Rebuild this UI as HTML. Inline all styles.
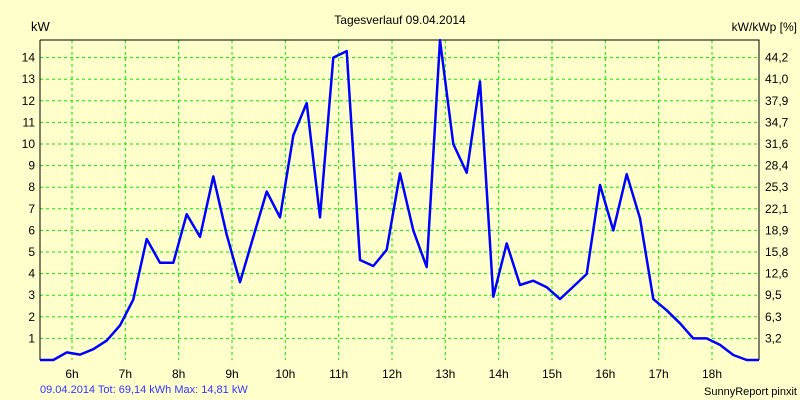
<!DOCTYPE html>
<html><head><meta charset="utf-8"><style>
html,body{margin:0;padding:0;background:#ffffcc;}
svg{display:block;font-family:"Liberation Sans",Arial,sans-serif;}
</style></head><body>
<svg width="800" height="400" viewBox="0 0 800 400">
<rect x="0" y="0" width="800" height="400" fill="#ffffcc"/>
<text x="400" y="24" font-size="12" text-anchor="middle" fill="#000">Tagesverlauf 09.04.2014</text>
<text x="31" y="31" font-size="13" fill="#000">kW</text>
<text x="797" y="31" font-size="12" text-anchor="end" fill="#000">kW/kWp [%]</text>
<g id="grid"></g>
<g id="axes"></g>
<g id="series"></g>
<text x="40" y="393" font-size="11" fill="#3333ff">09.04.2014 Tot: 69,14 kWh Max: 14,81 kW</text>
<text x="797" y="395" font-size="11" text-anchor="end" fill="#000">SunnyReport pinxit</text>
</svg>
<script>
const hourTicks = [6,7,8,9,10,11,12,13,14,15,16,17,18];
const kwTicks = [1,2,3,4,5,6,7,8,9,10,11,12,13,14];
const pctLabels = ["3,2","6,3","9,5","12,6","15,8","18,9","22,1","25,3","28,4","31,6","34,7","37,9","41,0","44,2"];
const startTime = 5.65;
const stepHours = 0.25;
const powerKW = [0,0.35,0.25,0.5,0.9,1.6,2.8,5.6,4.5,4.5,6.75,5.7,8.5,5.8,3.6,5.7,7.8,6.6,10.4,11.9,6.6,14.0,14.3,4.63,4.35,5.1,8.64,6.0,4.3,14.81,10.0,8.67,12.9,2.93,5.4,3.47,3.67,3.37,2.82,3.4,3.98,8.1,6.0,8.6,6.56,2.82,2.3,1.7,1.0,1.0,0.7,0.23,0,0];
const ns='http://www.w3.org/2000/svg';
const L=40,R=759,T=40,B=360;
function xs(t){return 72+(t-6)*53.333;}
function ys(v){return B-v*21.6;}
function mk(tag,attrs,parent){const e=document.createElementNS(ns,tag);for(const k in attrs)e.setAttribute(k,attrs[k]);parent.appendChild(e);return e;}
const grid=document.getElementById('grid'),axes=document.getElementById('axes'),series=document.getElementById('series');
hourTicks.forEach(h=>{
  const x=xs(h);
  const ln=mk('line',{x1:x,x2:x,y1:T,y2:B,stroke:'#00ee00','stroke-width':1,'stroke-dasharray':'3,3'},grid);
  
  
  const tx=mk('text',{x:x,y:378,'font-size':12,'text-anchor':'middle',fill:'#000'},axes);
  tx.textContent=h+'h';
  
  
});
kwTicks.forEach((v,i)=>{
  const y=ys(v);
  const ln=mk('line',{x1:L,x2:R,y1:y,y2:y,stroke:'#00ee00','stroke-width':1,'stroke-dasharray':'3,3'},grid);
  
  
  const tl=mk('text',{x:35,y:y+4,'font-size':12,'text-anchor':'end',fill:'#000'},axes);
  tl.textContent=v;
  
  
  const tr=mk('text',{x:765,y:y+4,'font-size':12,fill:'#000'},axes);
  tr.textContent=pctLabels[i];
  
  
});
const frame=mk('path',{d:`M${L},${T} L${R},${T} L${R},${B} M${L},${T} L${L},${B}`,stroke:'#000','stroke-width':1,fill:'none'},axes);


let d=`M${L},${ys(powerKW[0])}`;
powerKW.forEach((v,i)=>{let x=xs(startTime+i*stepHours);if(x>R)x=R;d+=` L${x.toFixed(1)},${ys(v).toFixed(1)}`;});
const line=mk('path',{d:d,stroke:'#0000ff','stroke-width':2.5,fill:'none','stroke-linejoin':'round'},series);


</script>
</body></html>
